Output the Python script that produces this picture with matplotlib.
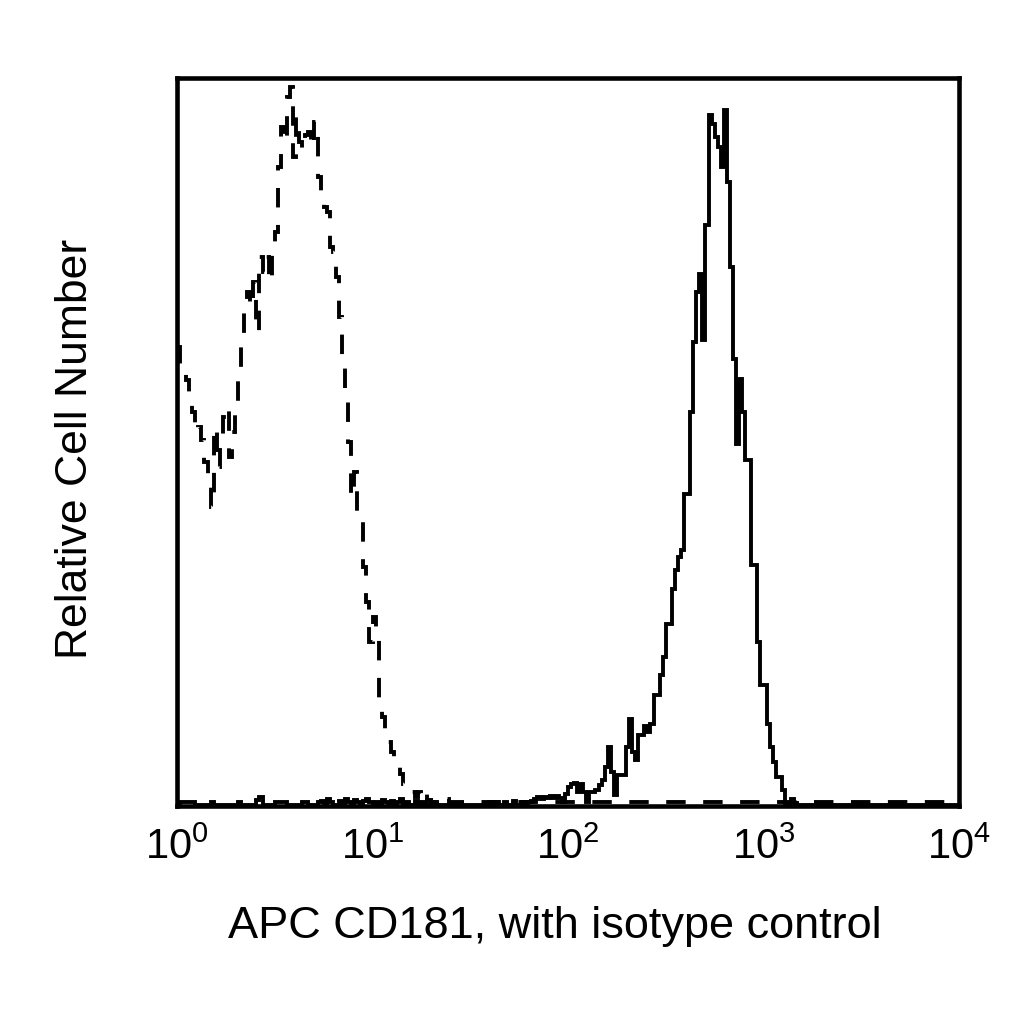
import numpy as np
import matplotlib
matplotlib.use("Agg")
import matplotlib.pyplot as plt
from matplotlib.ticker import FixedLocator, NullLocator

plt.rcParams['font.family'] = ['Liberation Sans', 'DejaVu Sans']
plt.rcParams['mathtext.fontset'] = 'custom'
plt.rcParams['mathtext.rm'] = 'Liberation Sans'
plt.rcParams['mathtext.it'] = 'Liberation Sans:italic'

# 256 channels over 4 decades -> 64 channels per decade
CH_PER_DECADE = 64
N_DECADES = 4

# isotype control (dashed), channels 0..89, then flat tail
isotype_counts = [458, 438, 431, 425, 403, 393, 373, 378, 365, 343,
                  325, 298, 378, 338, 363, 388, 398, 348, 373, 403,
                  428, 468, 503, 513, 498, 523, 473, 548, 533, 548,
                  523, 560, 573, 638, 678, 663, 708, 718, 648, 688,
                  663, 655, 670, 673, 658, 683, 628, 606, 598, 593,
                  558, 553, 528, 488, 448, 403, 363, 308, 333, 293,
                  283, 238, 203, 163, 188, 173, 103, 88, 73, 63,
                  53, 43, 38, 31, 21, 15, 15, 13, 8, 13,
                  6, 11, 5, 3, 2, 5, 3, 3, 6, 3]
isotype_tail = 3

# CD181 stained sample (solid), channels 0..202, zero afterwards
cd181_low = [0, 3, 3, 3, 3, 3, 0, 0, 0, 0,
             0, 3, 0, 0, 0, 0, 0, 0, 0, 0,
             3, 0, 0, 0, 0, 0, 5, 8, 0, 0,
             0, 0, 3, 3, 3, 3, 0, 0, 0, 0,
             0, 3, 3, 0, 0, 0, 3, 4, 0, 6,
             3, 0, 0, 4, 0, 6, 3, 0, 5, 3,
             0, 4, 6, 3, 0, 3, 0, 5, 3, 0,
             4, 0, 3, 6, 0, 3, 0, 0, 4, 0,
             3, 0, 5, 0, 3, 0, 0, 0, 0, 0,
             0, 0, 0, 0, 0, 0, 0, 0, 0, 0,
             0, 0, 3, 0, 3, 0, 0, 3, 0, 0,
             4, 0, 0, 3, 0]
cd181_main = [3, 4, 6, 8, 6, 8, 7, 9, 7, 9,
              7, 3, 11, 18, 21, 22, 13, 21, 13, 3,
              13, 13, 15, 20, 25, 38, 58, 33, 10, 30,
              30, 30, 58, 86, 53, 45, 70, 70, 79, 73,
              81, 110, 110, 130, 148, 181, 181, 216, 235, 248,
              255, 311, 311, 393, 463, 513, 531, 465, 580, 690,
              681, 668, 658, 638, 695, 623, 538, 446, 361, 426,
              393, 345, 345, 240, 240, 163, 120, 120, 81, 58,
              43, 28, 28, 15, 0, 2, 6, 2]
cd181_tail = 0

tick_decades = [0, 1, 2, 3, 4]


def channel_edges(n):
    # channel edges up to n, last edge stretched to the end of the axis
    e = 10.0 ** (np.arange(n + 1) / CH_PER_DECADE)
    return np.append(e, 10.0 ** N_DECADES)


fig = plt.figure(figsize=(10.24, 10.24), dpi=100)
ax = fig.add_axes([177 / 1024, 1 - 805.5 / 1024, 782 / 1024, 727.5 / 1024])

iso = np.array(isotype_counts + [isotype_tail], dtype=float)
ax.stairs(iso, channel_edges(len(isotype_counts)), color='black', lw=2.8,
          linestyle=(0, (5, 4.5)), baseline=None)

cd = np.array(cd181_low + cd181_main + [cd181_tail], dtype=float)
ax.stairs(cd, channel_edges(len(cd181_low) + len(cd181_main)), color='black',
          lw=2.8, baseline=None)

ax.set_xscale('log')
ax.set_xlim(1, 10.0 ** N_DECADES)
ax.set_ylim(-1, 726.5)
ax.xaxis.set_major_locator(FixedLocator([10.0 ** d for d in tick_decades]))
ax.xaxis.set_minor_locator(NullLocator())
ax.set_yticks([])
ax.tick_params(axis='x', length=0, pad=16, labelsize=30)

for s in ax.spines.values():
    s.set_linewidth(3.3)
    s.set_zorder(5)

ax.set_xlabel('APC CD181, with isotype control', fontsize=32.5)
ax.xaxis.set_label_coords(0.483, -0.138)
ax.set_ylabel('Relative Cell Number', fontsize=32)
ax.yaxis.set_label_coords(-0.103, 0.49)

fig.savefig('out.png', dpi=100)
